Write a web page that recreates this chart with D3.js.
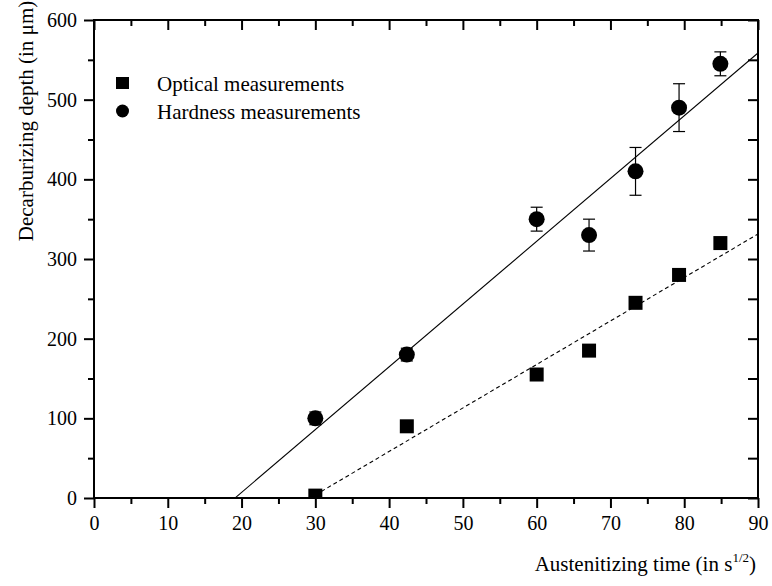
<!DOCTYPE html>
<html>
<head>
<meta charset="utf-8">
<script src="https://cdn.jsdelivr.net/npm/d3@7"></script>
<style>
  html, body { margin: 0; padding: 0; background: #fff; }
  svg text { font-family: "Liberation Serif", "Times New Roman", serif; fill: #000; }
</style>
</head>
<body>
<svg id="chart" width="772" height="586"></svg>
<script>
// Austenitizing time (s^1/2) for each sample
const times = [30, 42.4, 60, 67.1, 73.4, 79.3, 84.9];
// Optical measurements of decarburized depth (µm) and their errors
const opticalDepth = [3, 90, 155, 185, 245, 280, 320];
const opticalErr = [5, 7, 7, 7, 7, 7, 7];
// Hardness measurements of decarburized depth (µm) and their errors
const hardnessDepth = [100, 180, 350, 330, 410, 490, 545];
const hardnessErr = [8, 8, 15, 20, 30, 30, 15];
// Linear fits: depth = slope * t + intercept
const hardnessFit = { slope: 7.88, intercept: -150.6, from: 19.1, to: 90 };
const opticalFit = { slope: 5.46, intercept: -160.0, from: 30, to: 90 };
// Axis ticks
const xTicks = [0, 10, 20, 30, 40, 50, 60, 70, 80, 90];
const yTicks = [0, 100, 200, 300, 400, 500, 600];
const xMinor = [5, 15, 25, 35, 45, 55, 65, 75, 85];
const yMinor = [50, 150, 250, 350, 450, 550];

const svg = d3.select("#chart");
const L = 94, R = 758, T = 20, B = 498;
const x = d3.scaleLinear().domain([0, 90]).range([L, R]);
const y = d3.scaleLinear().domain([0, 600]).range([B, T]);

svg.append("defs").append("clipPath").attr("id", "plotClip")
  .append("rect").attr("x", L).attr("y", T).attr("width", R - L).attr("height", B - T);

const plot = svg.append("g").attr("clip-path", "url(#plotClip)");

// Fit lines
const line = d3.line().x(d => x(d[0])).y(d => y(d[1]));
function fitPts(f) { return [[f.from, f.slope * f.from + f.intercept], [f.to, f.slope * f.to + f.intercept]]; }
plot.append("path").attr("d", line(fitPts(hardnessFit)))
  .attr("fill", "none").attr("stroke", "#000").attr("stroke-width", 1.1);
plot.append("path").attr("d", line(fitPts(opticalFit)))
  .attr("fill", "none").attr("stroke", "#000").attr("stroke-width", 1.1)
  .attr("stroke-dasharray", "4,3");

// Error bars
function errorBars(vals, errs) {
  const g = plot.append("g").attr("stroke", "#000").attr("stroke-width", 1.2);
  times.forEach((t, i) => {
    const cx = x(t), y1 = y(vals[i] + errs[i]), y0 = y(vals[i] - errs[i]);
    g.append("line").attr("x1", cx).attr("x2", cx).attr("y1", y1).attr("y2", y0);
    g.append("line").attr("x1", cx - 6).attr("x2", cx + 6).attr("y1", y1).attr("y2", y1);
    g.append("line").attr("x1", cx - 6).attr("x2", cx + 6).attr("y1", y0).attr("y2", y0);
  });
}
errorBars(opticalDepth, opticalErr);
errorBars(hardnessDepth, hardnessErr);

// Markers
const sq = 14;
plot.append("g").selectAll("rect").data(times).join("rect")
  .attr("x", d => x(d) - sq / 2)
  .attr("y", (d, i) => y(opticalDepth[i]) - sq / 2)
  .attr("width", sq).attr("height", sq).attr("fill", "#000");
plot.append("g").selectAll("circle").data(times).join("circle")
  .attr("cx", d => x(d))
  .attr("cy", (d, i) => y(hardnessDepth[i]))
  .attr("r", 8).attr("fill", "#000");

// Axes
const axisW = 2;
const frame = svg.append("g").attr("stroke", "#000").attr("stroke-width", axisW).attr("fill", "none");
frame.append("rect").attr("x", L).attr("y", T).attr("width", R - L).attr("height", B - T);

const axBottom = svg.append("g").attr("transform", `translate(0,${B})`)
  .call(d3.axisBottom(x).tickValues(xTicks).tickSize(10).tickPadding(8).tickFormat(d3.format("d")));
const axBottomMinor = svg.append("g").attr("transform", `translate(0,${B})`)
  .call(d3.axisBottom(x).tickValues(xMinor).tickSize(6).tickFormat(""));
const axLeft = svg.append("g").attr("transform", `translate(${L},0)`)
  .call(d3.axisLeft(y).tickValues(yTicks).tickSize(10).tickPadding(7).tickFormat(d3.format("d")));
const axLeftMinor = svg.append("g").attr("transform", `translate(${L},0)`)
  .call(d3.axisLeft(y).tickValues(yMinor).tickSize(6).tickFormat(""));
const axTop = svg.append("g").attr("transform", `translate(0,${T})`)
  .call(d3.axisBottom(x).tickValues(xTicks).tickSize(10).tickFormat(""));
const axTopMinor = svg.append("g").attr("transform", `translate(0,${T})`)
  .call(d3.axisBottom(x).tickValues(xMinor).tickSize(6).tickFormat(""));
const axRight = svg.append("g").attr("transform", `translate(${R},0)`)
  .call(d3.axisLeft(y).tickValues(yTicks).tickSize(10).tickFormat(""));
const axRightMinor = svg.append("g").attr("transform", `translate(${R},0)`)
  .call(d3.axisLeft(y).tickValues(yMinor).tickSize(10).tickFormat(""));

[axBottom, axBottomMinor, axLeft, axLeftMinor, axTop, axTopMinor, axRight, axRightMinor].forEach(g => {
  g.select(".domain").remove();
  g.selectAll(".tick line").attr("stroke", "#000").attr("stroke-width", axisW);
  g.selectAll(".tick text").attr("font-size", 20).attr("fill", "#000");
});

// Axis titles
const xt = svg.append("text").attr("x", R - 2).attr("y", 571).attr("text-anchor", "end")
  .attr("font-size", 21);
xt.append("tspan").text("Austenitizing time (in s");
xt.append("tspan").attr("font-size", 13).attr("dy", -9).text("1/2");
xt.append("tspan").attr("dy", 9).text(")");

svg.append("text").attr("transform", "translate(33,121) rotate(-90)")
  .attr("text-anchor", "middle").attr("font-size", 21)
  .text("Decarburizing depth (in μm)");

// Legend
const lg = svg.append("g");
lg.append("rect").attr("x", 116).attr("y", 77).attr("width", 13).attr("height", 12).attr("fill", "#000");
lg.append("circle").attr("cx", 122.5).attr("cy", 111).attr("r", 6.5).attr("fill", "#000");
lg.append("text").attr("x", 157).attr("y", 91).attr("font-size", 21).text("Optical measurements");
lg.append("text").attr("x", 157).attr("y", 119).attr("font-size", 21).text("Hardness measurements");
</script>
</body>
</html>
